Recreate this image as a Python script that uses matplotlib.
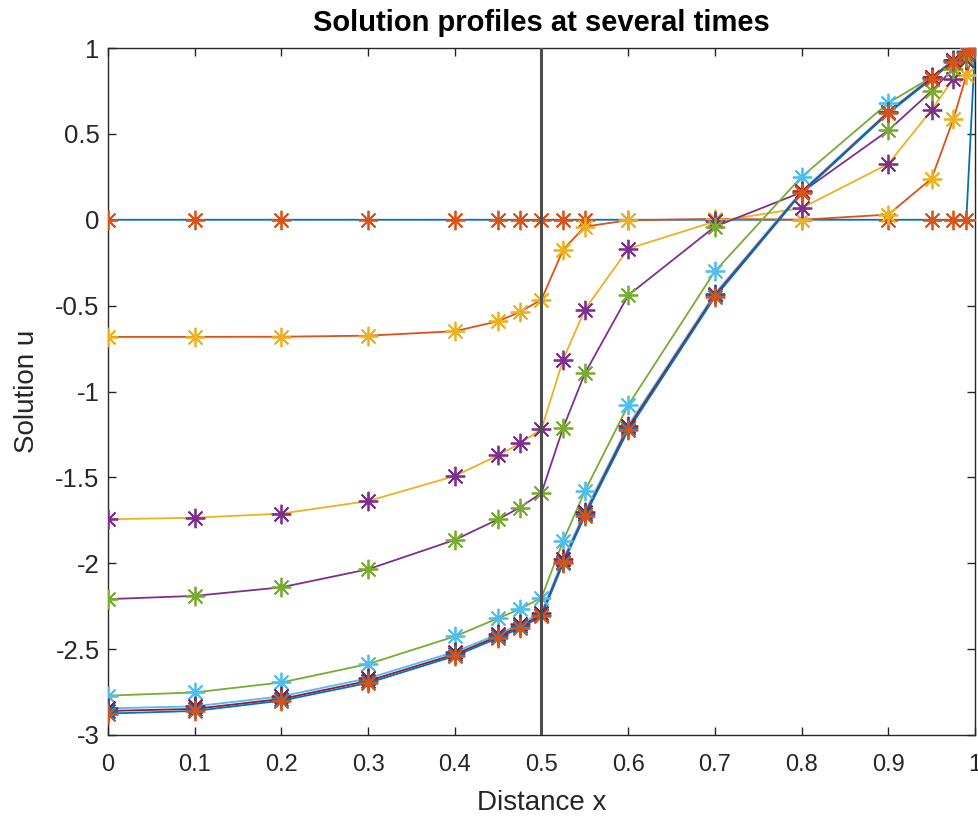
import matplotlib
matplotlib.use("Agg")
import matplotlib.pyplot as plt

plt.rcParams['font.family'] = ['Liberation Sans', 'DejaVu Sans']
plt.rcParams['axes.unicode_minus'] = False

x = [0, 0.1, 0.2, 0.3, 0.4, 0.45, 0.475, 0.5, 0.525, 0.55, 0.6, 0.7, 0.8, 0.9, 0.95, 0.975, 0.99, 1]

u_t0 = [0, 0, 0, 0, 0, 0, 0, 0, 0, 0, 0, 0, 0, 0, 0, 0, 0, 1]
u_t1 = [-0.682, -0.682, -0.681, -0.675, -0.649, -0.591, -0.537, -0.465, -0.174, -0.04, -0.003, 0.005, 0.0, 0.03, 0.24, 0.585, 0.84, 1]
u_t2 = [-1.744, -1.735, -1.711, -1.638, -1.492, -1.372, -1.302, -1.219, -0.814, -0.523, -0.169, -0.01, 0.068, 0.325, 0.64, 0.82, 0.93, 1]
u_t3 = [-2.209, -2.19, -2.14, -2.035, -1.864, -1.744, -1.676, -1.591, -1.211, -0.895, -0.44, -0.04, 0.16, 0.52, 0.75, 0.88, 0.95, 1]
u_t4 = [-2.771, -2.752, -2.694, -2.587, -2.426, -2.32, -2.267, -2.2, -1.87, -1.58, -1.08, -0.30, 0.25, 0.68, 0.83, 0.93, 0.98, 1]
u_t5 = [-2.845, -2.833, -2.775, -2.67, -2.516, -2.413, -2.355, -2.287, -1.977, -1.70, -1.198, -0.43, 0.165, 0.63, 0.83, 0.93, 0.975, 1]
u_t6 = [-2.86, -2.848, -2.79, -2.685, -2.53, -2.425, -2.367, -2.30, -1.99, -1.715, -1.21, -0.44, 0.16, 0.625, 0.825, 0.925, 0.975, 1]
u_t7 = [-2.875, -2.86, -2.80, -2.697, -2.54, -2.435, -2.377, -2.31, -2.0, -1.725, -1.225, -0.45, 0.155, 0.62, 0.82, 0.92, 0.97, 1]

profiles = [u_t0, u_t1, u_t2, u_t3, u_t4, u_t5, u_t6, u_t7]

colors = ['#0072BD', '#D95319', '#EDB120', '#7E2F8E', '#77AC30', '#4DBEEE', '#A2142F']

xticks = [0, 0.1, 0.2, 0.3, 0.4, 0.5, 0.6, 0.7, 0.8, 0.9, 1]
xticklabels = ['0', '0.1', '0.2', '0.3', '0.4', '0.5', '0.6', '0.7', '0.8', '0.9', '1']
yticks = [-3, -2.5, -2, -1.5, -1, -0.5, 0, 0.5, 1]
yticklabels = ['-3', '-2.5', '-2', '-1.5', '-1', '-0.5', '0', '0.5', '1']

fig = plt.figure(figsize=(9.79, 8.17), dpi=100)
ax = fig.add_axes([108/979, 1-735/817, (975-108)/979, (735-48)/817])

k = 0
for u in profiles:
    ax.plot(x, u, '-', color=colors[k % 7], lw=1.3, zorder=2)
    k += 1
for u in profiles:
    ax.plot(x, u, linestyle='none', marker=(8, 2, 0), ms=14, mew=1.3,
            color=colors[k % 7], zorder=3)
    k += 1

ax.plot([0.5, 0.5], [-3, 1], color='0.3', lw=2.2, zorder=4)

ax.set_xlim(0, 1)
ax.set_ylim(-3, 1)
ax.set_xticks(xticks)
ax.set_xticklabels(xticklabels)
ax.set_yticks(yticks)
ax.set_yticklabels(yticklabels)

axc = '0.15'
for s in ax.spines.values():
    s.set_color(axc)
    s.set_linewidth(1.0)
ax.tick_params(direction='in', top=True, right=True, length=6, width=1.0,
               color=axc, labelcolor=axc)
ax.tick_params(axis='x', pad=14, labelsize=17)
ax.tick_params(axis='y', pad=6, labelsize=18.5)

ax.set_xlabel('Distance x', fontsize=20, color=axc, labelpad=10)
ax.set_ylabel('Solution u', fontsize=20, color=axc, labelpad=11)
ax.set_title('Solution profiles at several times', fontsize=21, fontweight='bold', pad=12)

fig.savefig('out.png', dpi=100)
